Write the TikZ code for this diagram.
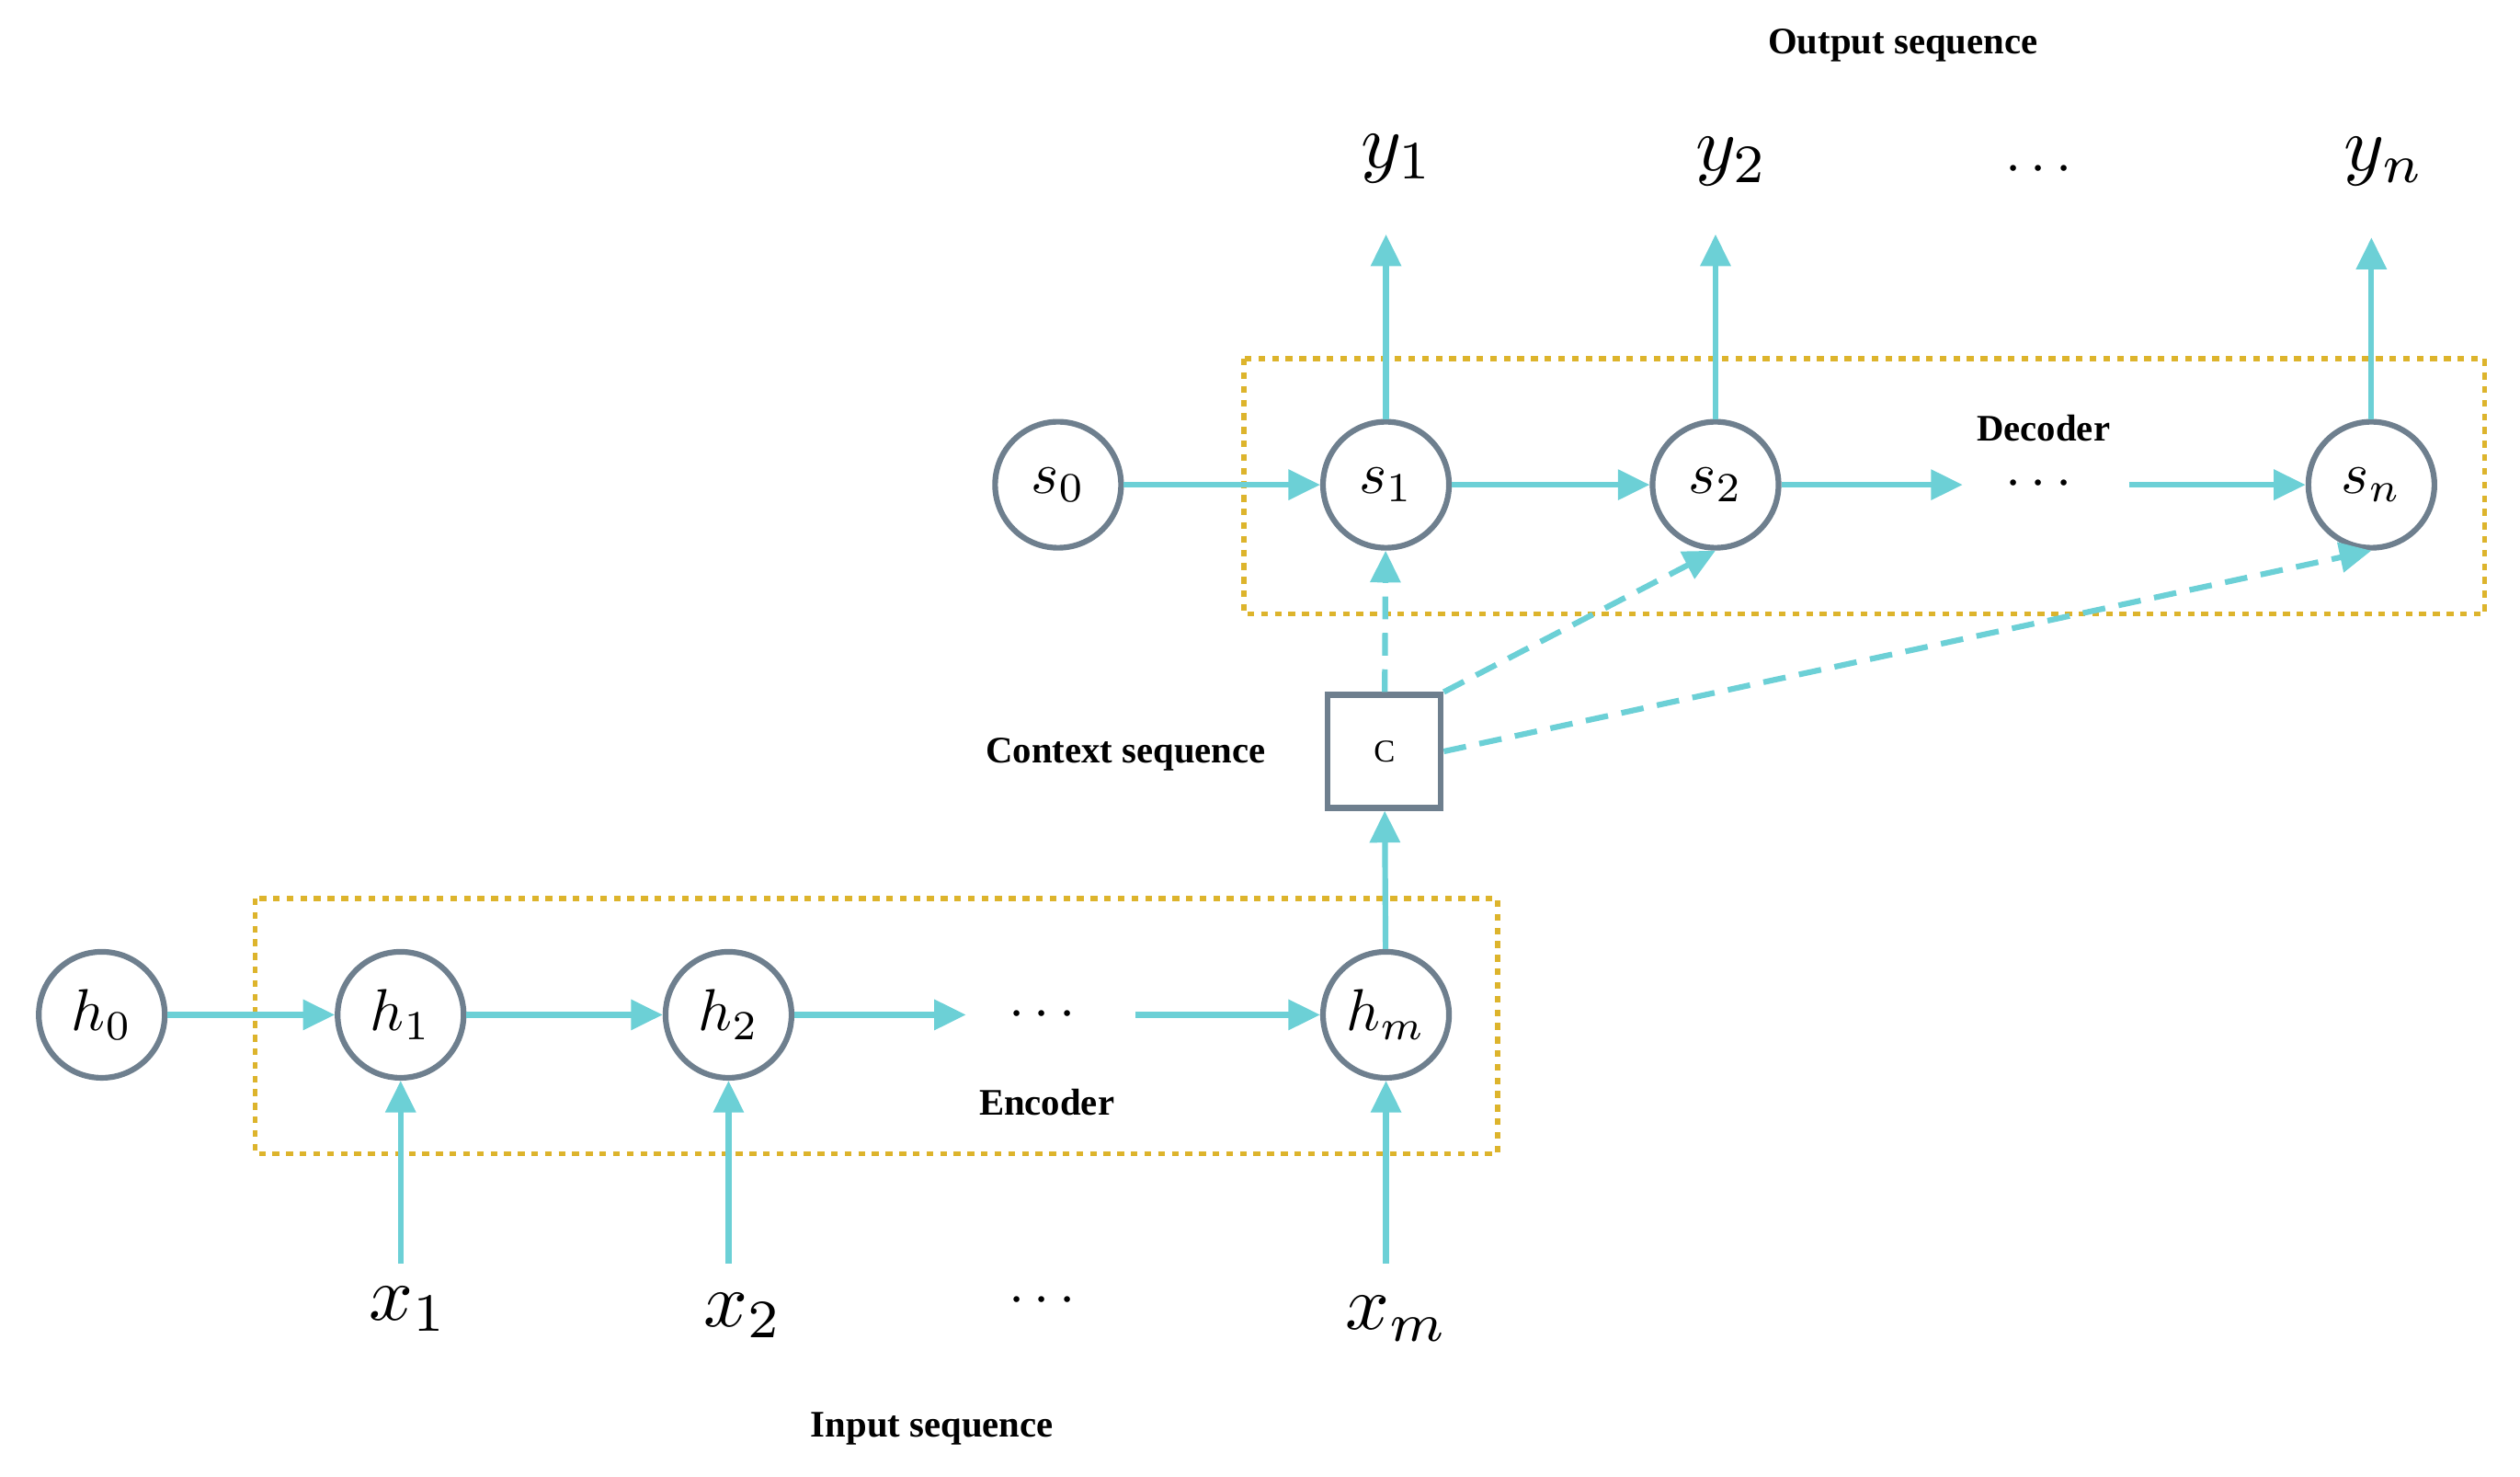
\documentclass[tikz,border=0pt]{standalone}
\usepackage{fontspec}
\setmainfont{Liberation Serif}
\usepackage{amsmath,bm}
\usetikzlibrary{arrows.meta}
\definecolor{cy}{HTML}{6CD0D6}
\definecolor{gr}{HTML}{6E7F8E}
\definecolor{yl}{HTML}{DDB42C}
\newcommand{\Ms}[1]{\scalebox{5.2}{$#1$}}
\newcommand{\Ml}[1]{\scalebox{6.8}{$#1$}}
\begin{document}
\begin{tikzpicture}[x=0.05cm,y=-0.05cm,
 st/.style={circle,draw=gr,line width=5pt,minimum size=3.9cm,inner sep=0pt,fill=white},
 ar/.style={draw=cy,line width=5pt,-{Triangle[length=28pt,width=26pt]}},
 da/.style={ar,dash pattern=on 20pt off 12pt},
 bx/.style={draw=yl,line width=4.5pt,dash pattern=on 6pt off 6pt},
 tx/.style={font=\bfseries\fontsize{33}{40}\selectfont},
 dt/.style={font=\fontsize{36}{40}\selectfont}]
\useasboundingbox (0,0) rectangle (1560,914);
\draw[bx] (158,556) rectangle (927,714);
\draw[bx] (770,222) rectangle (1538,380);
\node[st] (h0) at (63,628) {\Ms{h_0}};
\node[st] (h1) at (248,628) {\Ms{h_1}};
\node[st] (h2) at (451,628) {\Ms{h_2}};
\node[st] (hm) at (858,628) {\Ms{h_m}};
\node (ed) at (648,628) {\scalebox{5}{$\cdots$}};
\coordinate (e1) at (598,628); \coordinate (e2) at (703,628);
\node[tx] (enc) at (648,682) {Encoder};
\node (x1) at (253,810) {\Ml{x_1}};
\node (x2) at (460,814) {\Ml{x_2}};
\node (xm) at (865,816) {\Ml{x_m}};
\node (xd) at (648,805) {\scalebox{5}{$\cdots$}};
\coordinate (x1s) at (248,782); \coordinate (x2s) at (451,782); \coordinate (xms) at (858,782);
\node[tx] (inp) at (577,884) {Input sequence};
\node[draw=gr,line width=5pt,minimum size=3.5cm,fill=white,font=\fontsize{28}{30}\selectfont] (C) at (857,465) {C};
\node[tx,anchor=east] (ctx) at (786,467) {Context sequence};
\node[st] (s0) at (655,300) {\Ms{s_0}};
\node[st] (s1) at (858,300) {\Ms{s_1}};
\node[st] (s2) at (1062,300) {\Ms{s_2}};
\node[st] (sn) at (1468,300) {\Ms{s_n}};
\node (sd) at (1265,300) {\scalebox{5}{$\cdots$}};
\coordinate (d1) at (1215,300); \coordinate (d2) at (1318,300);
\node[tx] (dec) at (1265,265) {Decoder};
\node (y1) at (865,98) {\Ml{y_1}};
\node (y2) at (1072,100) {\Ml{y_2}};
\node (yn) at (1476,100) {\Ml{y_n}};
\node (yd) at (1265,105) {\scalebox{5}{$\cdots$}};
\coordinate (y1e) at (858,145); \coordinate (y2e) at (1062,145); \coordinate (yne) at (1468,147);
\node[tx] (out) at (1178,28) {Output sequence};
\draw[ar] (h0) -- (h1);
\draw[ar] (h1) -- (h2);
\draw[ar] (h2) -- (e1);
\draw[ar] (e2) -- (hm);
\draw[ar] (x1s) -- (h1);
\draw[ar] (x2s) -- (h2);
\draw[ar] (xms) -- (hm);
\draw[ar] (hm) -- (C);
\draw[da] (C) -- (s1);
\draw[da] (C.north east) -- (s2.south);
\draw[da] (C.east) -- (sn.south);
\draw[ar] (s0) -- (s1);
\draw[ar] (s1) -- (s2);
\draw[ar] (s2) -- (d1);
\draw[ar] (d2) -- (sn);
\draw[ar] (s1) -- (y1e);
\draw[ar] (s2) -- (y2e);
\draw[ar] (sn) -- (yne);
\end{tikzpicture}
\end{document}
